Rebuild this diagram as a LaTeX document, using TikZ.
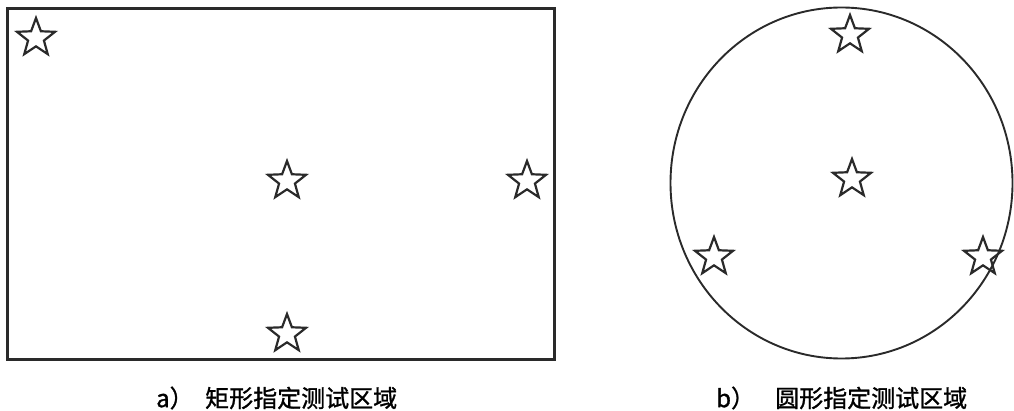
\documentclass[tikz,border=0pt]{standalone}
\usepackage{fontspec}
\setmainfont{Noto Sans CJK SC}
\newfontfamily\capfont{Noto Sans CJK SC}[FakeBold=1.2]
\usetikzlibrary{shapes.geometric}
\definecolor{ink}{HTML}{2A2A2A}
\tikzset{
  starmark/.style={star, star points=5, star point ratio=2.4, minimum size=40pt, inner sep=0pt, draw=ink, line width=2.2pt},
  zone/.style={draw=ink, line width=2.2pt},
  captext/.style={font=\capfont\fontsize{24pt}{26pt}\selectfont, text=black, inner sep=0pt, anchor=west}
}
\begin{document}
\begin{tikzpicture}[x=1pt,y=-1pt]
\useasboundingbox (0,0) rectangle (1014,411);
% rectangle area
\node[zone, rectangle, minimum width=547pt, minimum height=351pt, inner sep=0pt] (rect) at (281,184) {};
\node[starmark] (s1) at (36,38) {};
\node[starmark] (s2) at (287,181) {};
\node[starmark] (s3) at (527,181) {};
\node[starmark] (s4) at (287,334) {};
% circle area
\node[zone, ellipse, minimum width=342pt, minimum height=351pt, inner sep=0pt, line width=1.9pt] (circ) at (841.5,183) {};
\node[starmark] (c1) at (850,35) {};
\node[starmark] (c2) at (852,179) {};
\node[starmark] (c3) at (714,257) {};
\node[starmark] (c4) at (983,257) {};
% captions
\node[captext] (la) at (156,398) {a）};
\node[captext] (ta) at (205,398) {矩形指定测试区域};
\node[captext] (lb) at (716,398) {b）};
\node[captext] (tb) at (775,398) {圆形指定测试区域};
\end{tikzpicture}
\end{document}
